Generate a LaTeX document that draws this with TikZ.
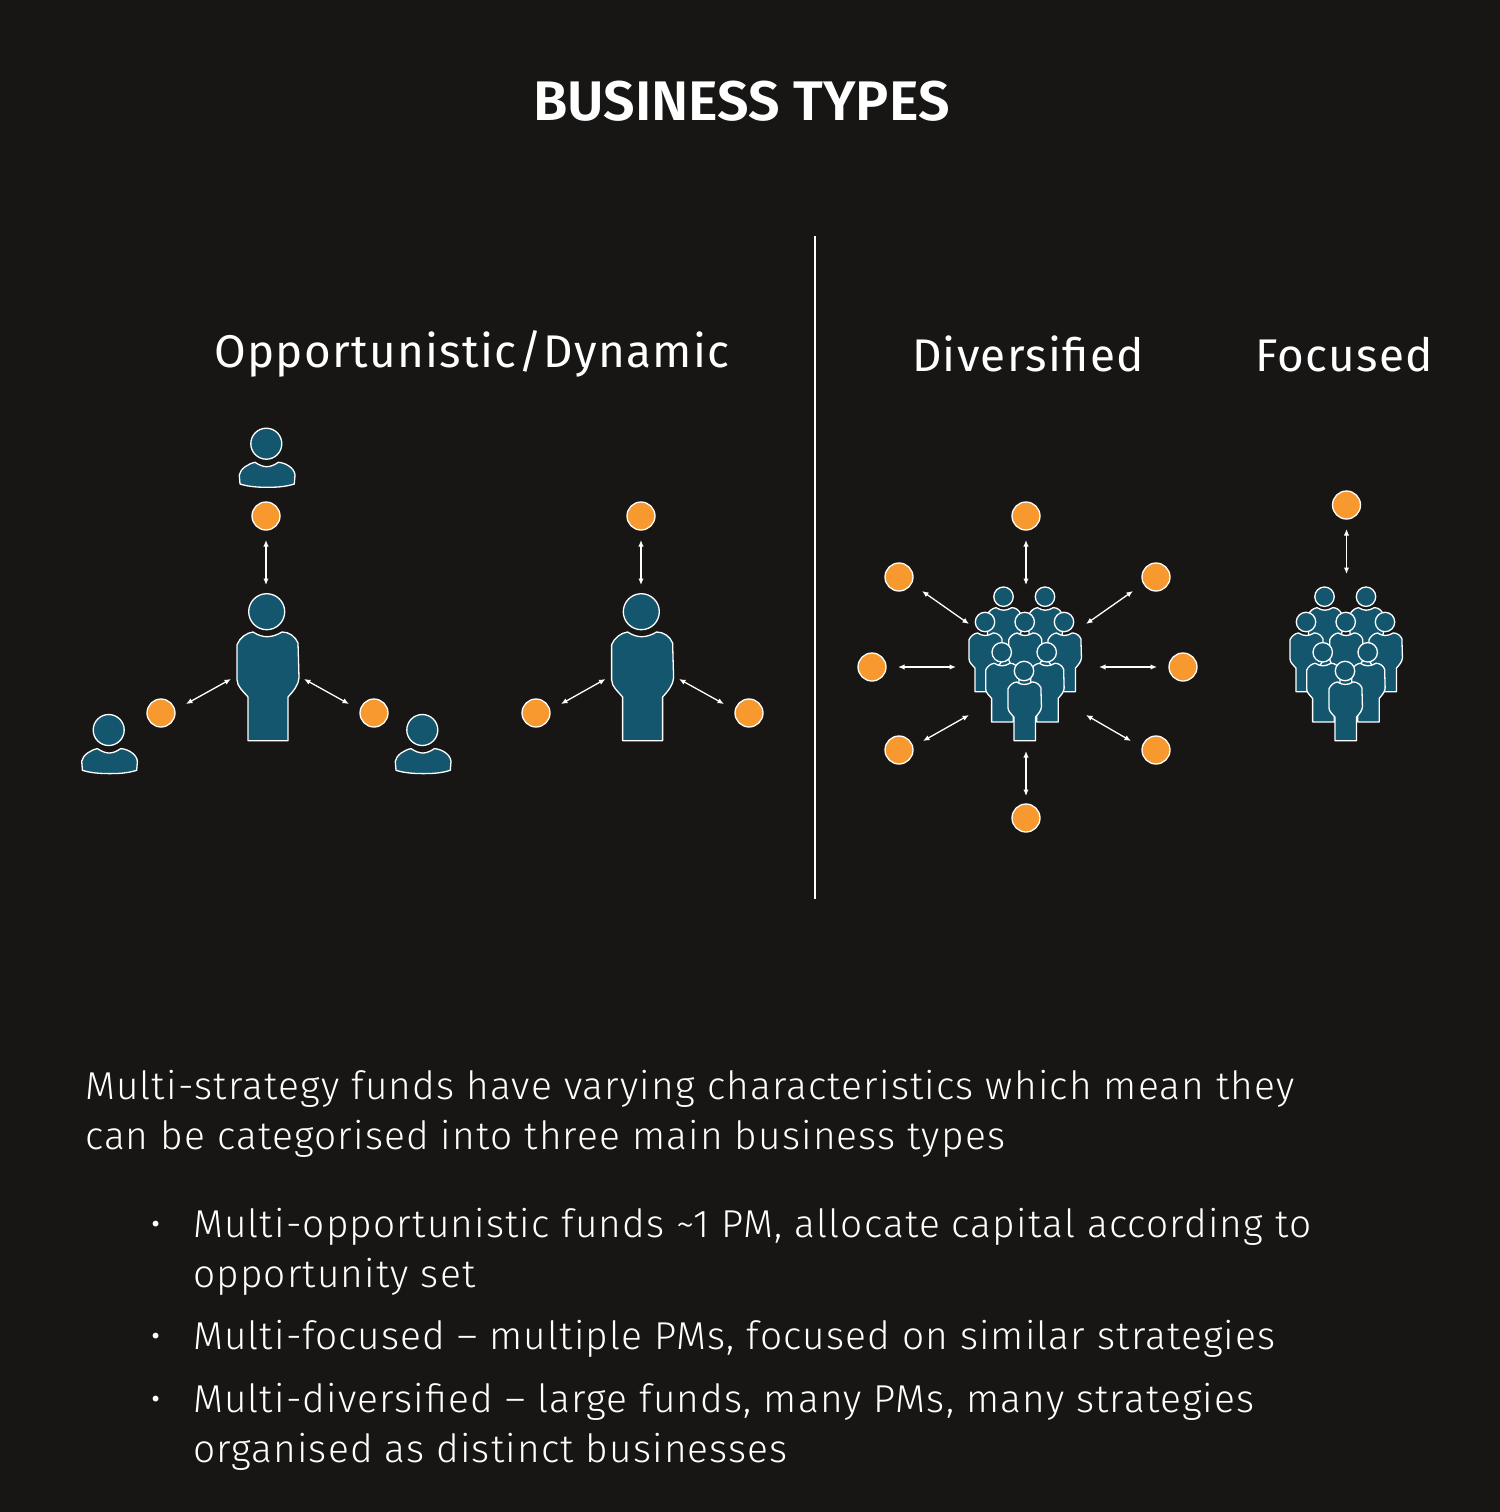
\documentclass[tikz,border=0pt]{standalone}
\usepackage{fontspec}
\setmainfont{Fira Sans}
\newfontfamily\lightfont[LetterSpace=3]{Fira Sans Light}
\newfontfamily\headfont[LetterSpace=3]{Fira Sans}
\newfontfamily\titlefont{Fira Sans SemiBold}
\usetikzlibrary{arrows.meta}
\definecolor{bg}{HTML}{171615}
\definecolor{teal}{HTML}{14566E}
\definecolor{amber}{HTML}{F7992E}
\tikzset{
  x=1bp,y=-1bp,
  figure/.style={fill=teal,draw=white,line width=1.3bp,line join=round},
  token/.style={circle,fill=amber,draw=white,line width=1.3bp,minimum size=28bp,inner sep=0pt},
  link/.style={draw=white,line width=1.3bp,{Latex[length=6.5bp,width=5.5bp]}-{Latex[length=6.5bp,width=5.5bp]}},
  txt/.style={text=white,anchor=base west,inner sep=0pt,outer sep=0pt},
  bigperson/.pic={
    \path[figure] (-13.7,20.3) .. controls (-9,23.5) and (-4,25) .. (0.3,25) .. controls (5,25) and (10,23.5) .. (15.3,20.3)
      .. controls (22,20) and (29,25) .. (31.3,31.3) -- (32.3,66) .. controls (32,73) and (27,79) .. (21.3,85.3)
      -- (21.3,129) -- (-18.7,129) -- (-18.7,85.3) .. controls (-24,79) and (-29.5,75) .. (-29.7,68) -- (-29.7,33)
      .. controls (-27,26) and (-20,21) .. (-13.7,20.3) -- cycle;
    \path[figure] (0,0) circle (18);
  },
  smallperson/.pic={
    \path[figure] (-11.3,18.6) .. controls (-7,21.5) and (-3,23) .. (0.4,23) .. controls (4,23) and (8,21.5) .. (12,18.6)
      .. controls (19,19) and (28,24) .. (28.7,31.3) -- (28,40.3) .. controls (18,43.5) and (8,43.6) .. (0.4,43.6)
      .. controls (-8,43.6) and (-18,43) .. (-26.3,40.3) -- (-27,31.3) .. controls (-26,25) and (-18,20) .. (-11.3,18.6) -- cycle;
    \path[figure] (0,0) circle (15.5);
  },
  crowd/.pic={
    \pic[scale=.54] (a) at (-20.5,-74.3) {bigperson};
    \pic[scale=.54] (b) at (21,-74.3) {bigperson};
    \pic[scale=.54] (c) at (-39,-49) {bigperson};
    \pic[scale=.54] (d) at (40,-49) {bigperson};
    \pic[scale=.54] (e) at (0.7,-49) {bigperson};
    \pic[scale=.54] (f) at (-22.3,-18.7) {bigperson};
    \pic[scale=.54] (g) at (22.7,-18.7) {bigperson};
    \pic[scale=.54] (h) at (0,0) {bigperson};
  }
}
\begin{document}
\begin{tikzpicture}
\path[fill=bg] (0,0) rectangle (1500,1512);
\useasboundingbox (0,0) rectangle (1500,1512);
% texts
\node[txt,font=\titlefont\fontsize{56}{60}\selectfont] (title) at (533,121) {BUSINESS TYPES};
\node[txt,font=\headfont\fontsize{46}{50}\selectfont] (h1) at (214,367) {Opportunistic/Dynamic};
\node[txt,font=\headfont\fontsize{46}{50}\selectfont] (h2) at (912,371) {Diversified};
\node[txt,font=\headfont\fontsize{46}{50}\selectfont] (h3) at (1255,371) {Focused};
\coordinate (divtop) at (814.5,236);
\coordinate (divbot) at (814.5,899);
\draw[white,line width=2bp] (divtop) -- (divbot);
% persons
\pic (p1) at (266.3,443.7) {smallperson};
\pic (p2) at (108.7,730) {smallperson};
\pic (p3) at (422.3,730) {smallperson};
\pic (c1) at (266.7,611.7) {bigperson};
\pic (c2) at (641.3,611.7) {bigperson};
\pic (g1) at (1024,671) {crowd};
\pic (g2) at (1345,671) {crowd};
% tokens
\foreach \n/\x/\y in {t1/266/516,t2/161/713,t3/374/713,t4/641/516,t5/536/713,t6/749/713,
  t7/1026/516,t8/899/577,t9/1156/577,t10/872/667,t11/1183/667,t12/899/750,t13/1156/750,t14/1026/818,t15/1346.5/505}
  \node[token] (\n) at (\x,\y) {};
% connectors
\foreach \n/\ax/\ay/\bx/\by in {l1/266/540/266/585,l2/186/704/231/679,l3/304/679/349/704,
  l4/641/540/641/585,l5/561/704/605.5/679,l6/679/679/724/704,
  l7/1026/540/1026/585,l8/922/591/969/624,l9/1133/591/1086/624,l10/898/667/956/667,l11/1099/667/1157/667,
  l12/923/741/969/715,l13/1131/741/1086/715,l14/1026/751/1026/796,l15/1346.5/529/1346.5/574}{
  \coordinate (\n a) at (\ax,\ay);
  \coordinate (\n b) at (\bx,\by);
  \draw[link] (\n a) -- (\n b);
}
% body
\begin{scope}[every node/.style={txt,font=\lightfont\fontsize{39}{44}\selectfont}]
\node (b1) at (85,1099) {Multi-strategy funds have varying characteristics which mean they};
\node (b2) at (85,1149) {can be categorised into three main business types};
\node (i1a) at (193,1237) {Multi-opportunistic funds \textasciitilde 1 PM, allocate capital according to};
\node (i1b) at (193,1287) {opportunity set};
\node (i2) at (193,1349) {Multi-focused – multiple PMs, focused on similar strategies};
\node (i3a) at (193,1412) {Multi-diversified – large funds, many PMs, many strategies};
\node (i3b) at (193,1462) {organised as distinct businesses};
\node (d1) at (150.5,1237) {•};
\node (d2) at (150.5,1349) {•};
\node (d3) at (150.5,1412) {•};
\end{scope}
\end{tikzpicture}
\end{document}
